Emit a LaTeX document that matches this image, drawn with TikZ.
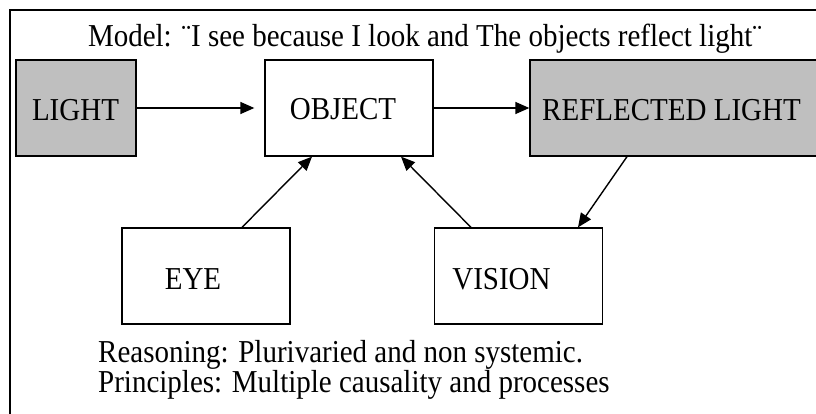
\documentclass[tikz,border=0pt]{standalone}
\usepackage{fontspec}
\usepackage{graphicx}
\setmainfont{Liberation Serif}
\usetikzlibrary{arrows.meta}
\newcommand\talltext[1]{\scalebox{1}[1.1]{#1}}
\begin{document}
\begin{tikzpicture}[x=1pt,y=-1pt,
  every node/.style={font=\fontsize{29}{35}\selectfont},
  box/.style={draw=black, line width=1.3pt, rectangle, inner sep=0pt},
  graybox/.style={box, fill=gray!50!white},
  txt/.style={inner sep=0pt, anchor=base},
  txtl/.style={inner sep=0pt, anchor=base west},
  arr/.style={line width=1.4pt, -{Triangle[length=14pt,width=12pt]}}]
\useasboundingbox (0,0) rectangle (816,414);
\fill[white] (0,0) rectangle (816,414);
% outer frame (only top and left visible)
\draw[line width=1.3pt] (820,10) -- (10,10) -- (10,420);
% boxes
\node[graybox, minimum width=120pt, minimum height=96pt] (light) at (76,108) {};
\node[box, minimum width=168pt, minimum height=96pt] (object) at (349,108) {};
\node[graybox, minimum width=300pt, minimum height=96pt] (refl) at (680,108) {};
\node[box, minimum width=168pt, minimum height=96pt] (eye) at (206,276) {};
\node[box, minimum width=168pt, minimum height=96pt] (vision) at (518.5,276) {};
% texts
\node[txt] (title) at (425,47) {\talltext{Model: ¨I see because I look and The objects reflect light¨}};
\node[txt] (lightt) at (75.5,121) {\talltext{LIGHT}};
\node[txt] (objectt) at (343,120) {\talltext{OBJECT}};
\node[txtl] (reflt) at (542,121) {\talltext{REFLECTED LIGHT}};
\node[txt] (eyet) at (193,289) {\talltext{EYE}};
\node[txt] (visiont) at (501.5,289) {\talltext{VISION}};
\node[txtl] (reason) at (98,362) {\talltext{Reasoning: Plurivaried and non systemic.}};
\node[txtl] (princ) at (98,392) {\talltext{Principles: Multiple causality and processes}};
% connectors
\draw[arr, shorten >=10pt] (light.east) -- (object.west);
\draw[arr] (object.east) -- (refl.west);
\draw[arr] ([xshift=36pt]eye.north) -- ([xshift=-37pt]object.south);
\draw[arr] ([xshift=-47.5pt]vision.north) -- ([xshift=52pt]object.south);
\draw[arr] ([xshift=-53pt]refl.south) -- ([xshift=59.5pt]vision.north);
\end{tikzpicture}
\end{document}
